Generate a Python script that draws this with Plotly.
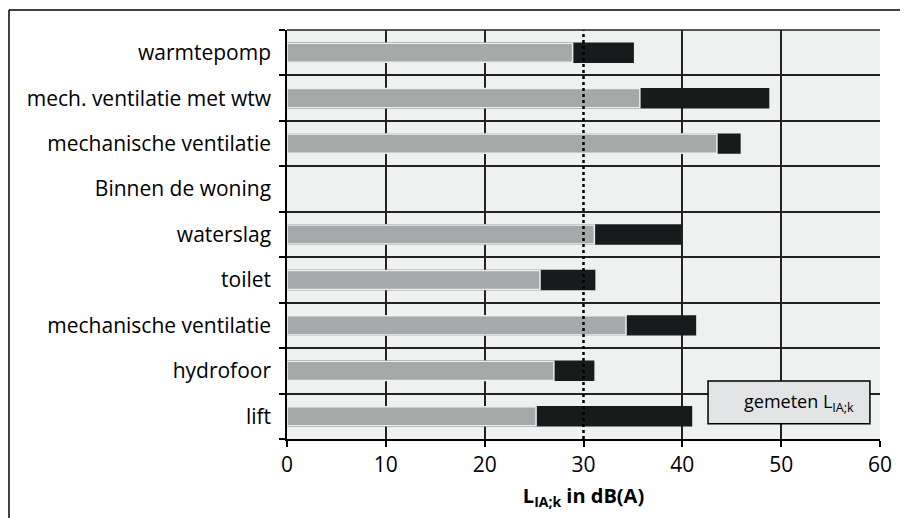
import plotly.graph_objects as go

# ---- data (top to bottom) ----
categories = ["warmtepomp", "mech. ventilatie met wtw", "mechanische ventilatie",
              "Binnen de woning", "waterslag", "toilet", "mechanische ventilatie",
              "hydrofoor", "lift"]
gemeten = [28.9, 35.7, 43.5, None, 31.1, 25.6, 34.3, 27.0, 25.2]
totaal = [35.1, 48.8, 45.9, None, 39.9, 31.2, 41.4, 31.1, 41.0]
x_ticks = [0, 10, 20, 30, 40, 50, 60]
x_grid = [10, 20, 40, 50, 60]
limit_value = 30

pos = list(range(len(categories)))
boundaries = [p - 0.5 for p in pos] + [pos[-1] + 0.5]

fig = go.Figure()
fig.add_trace(go.Bar(y=pos, x=totaal, orientation="h", width=0.45,
                     marker=dict(color="#171b1b", line=dict(width=0)),
                     showlegend=False, hoverinfo="x"))
fig.add_trace(go.Bar(y=pos, x=gemeten, orientation="h", width=0.42,
                     marker=dict(color="#a6a9a9", line=dict(color="#eef0f0", width=1.5)),
                     showlegend=False, hoverinfo="x"))

fig.update_layout(
    width=900, height=510,
    margin=dict(l=279, r=28, t=22, b=79),
    barmode="overlay",
    paper_bgcolor="white",
    plot_bgcolor="#eff0f0",
    font=dict(family="Open Sans", color="black", size=21),
    showlegend=False,
)

fig.update_xaxes(
    range=[0, 60], tickvals=x_ticks, ticks="outside", ticklen=6, tickwidth=1.5,
    tickcolor="black", showline=True, linecolor="black", linewidth=1.5,
    showgrid=False, zeroline=False, tickfont=dict(size=21),
    minor=dict(tickvals=x_grid, showgrid=True, gridcolor="#222222", gridwidth=1.5, ticks=""),
    title=dict(text="<b>L<sub>IA;k</sub> in dB(A)</b>", font=dict(size=20), standoff=12),
)
fig.update_yaxes(
    range=[len(categories) - 0.5, -0.5], tickvals=pos, ticktext=categories,
    ticks="", showline=True, linecolor="black", linewidth=1.5,
    showgrid=False, zeroline=False, ticklabelstandoff=10, tickfont=dict(size=21),
    minor=dict(tickvals=boundaries, showgrid=True, gridcolor="#222222", gridwidth=1.5,
               ticks="outside", ticklen=6, tickcolor="black", tickwidth=1.5),
)

# dotted reference line at 30 dB(A)
fig.add_shape(type="line", xref="x", yref="paper", x0=limit_value, x1=limit_value,
              y0=0, y1=1, line=dict(color="black", width=2.5, dash="dot"))
# top border of plot area
fig.add_shape(type="line", xref="paper", yref="paper", x0=0, x1=1, y0=1, y1=1,
              line=dict(color="#222222", width=1.5))

# legend box
fig.add_shape(type="rect", xref="paper", yref="paper", x0=0.71, x1=0.983,
              y0=0.037, y1=0.142, fillcolor="#e2e4e6", line=dict(color="black", width=1.5))
fig.add_annotation(xref="paper", yref="paper", x=0.96, y=0.09, xanchor="right",
                   yanchor="middle", showarrow=False,
                   text="gemeten L<sub>IA;k</sub>", font=dict(size=18))

# outer frame
fig.add_shape(type="line", xref="paper", yref="paper", x0=-0.4688, x1=1.0405,
              y0=1.0489, y1=1.0489, line=dict(color="black", width=1.5))
fig.add_shape(type="line", xref="paper", yref="paper", x0=-0.4688, x1=-0.4688,
              y0=1.0489, y1=-0.21, line=dict(color="black", width=1.5))
fig.add_shape(type="line", xref="paper", yref="paper", x0=1.0405, x1=1.0405,
              y0=1.0489, y1=-0.21, line=dict(color="#999999", width=1, dash="dash"))

fig.write_html("out.html")
